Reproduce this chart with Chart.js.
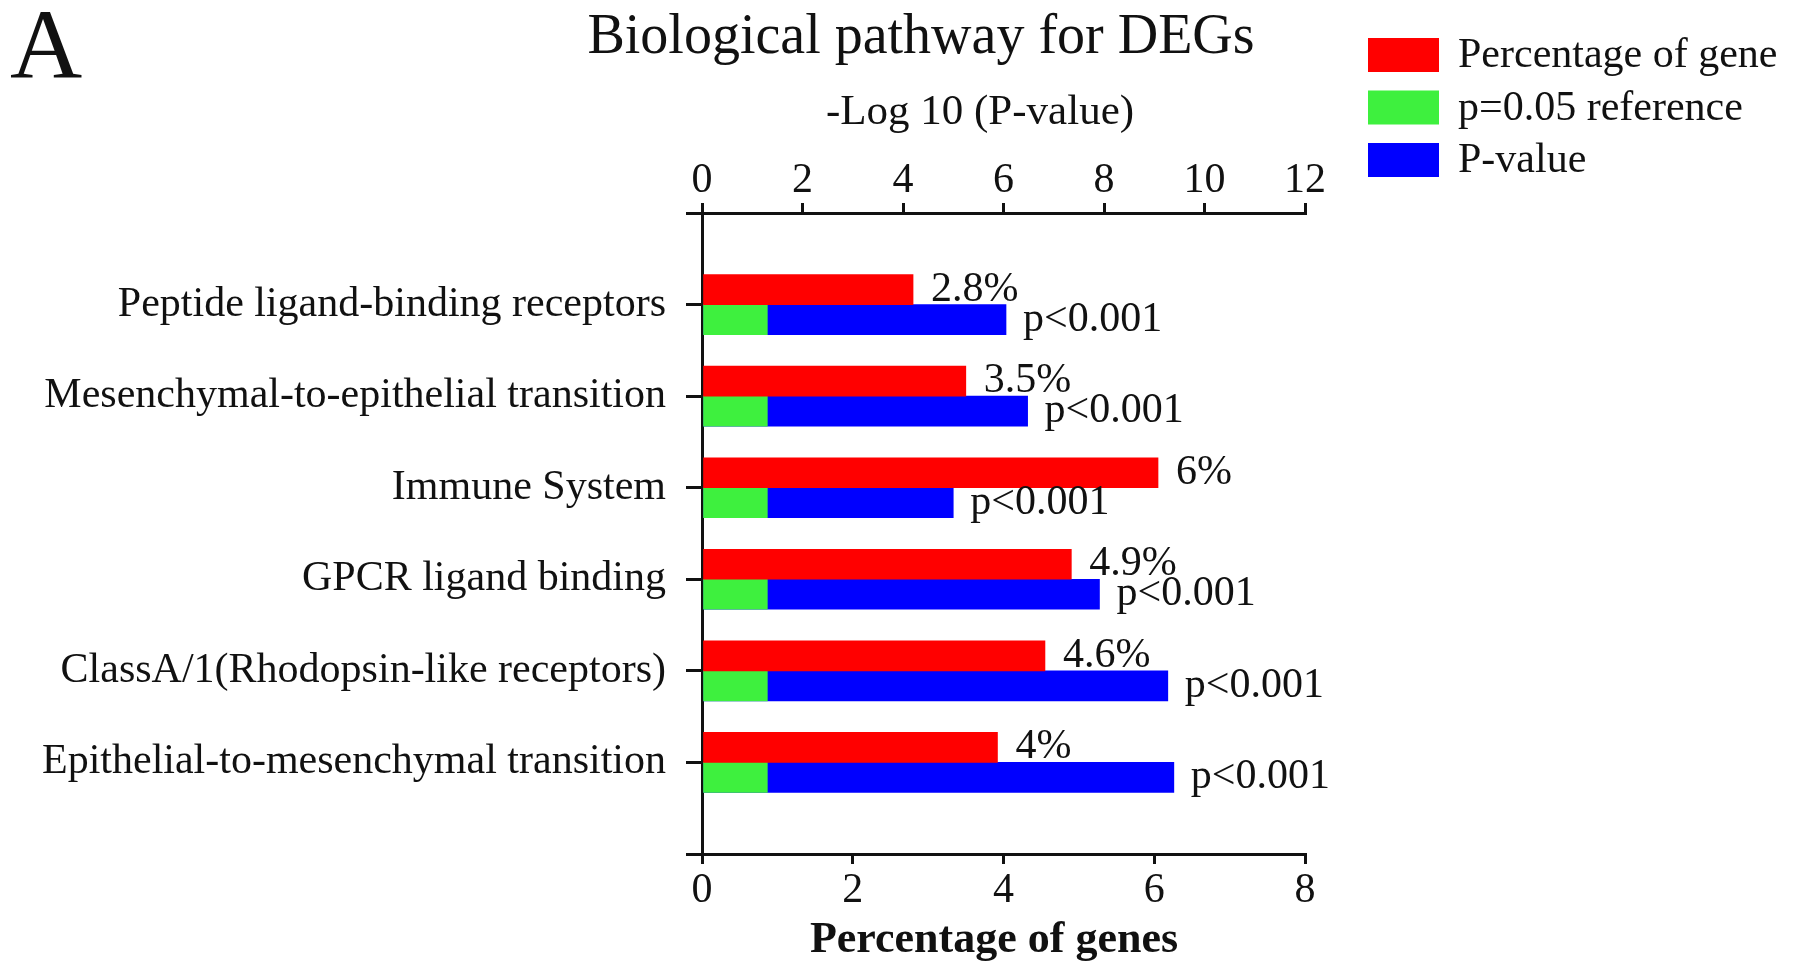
<!DOCTYPE html>
<html>
<head>
<meta charset="utf-8">
<title>Biological pathway for DEGs</title>
<script src="https://cdn.jsdelivr.net/npm/chart.js"></script>
<style>
html, body { margin:0; padding:0; background:#fff; }
</style>
</head>
<body>
<canvas id="myChart" width="1795" height="979"></canvas>
<script>
// pathways, top to bottom
var pathways = [
  'Peptide ligand-binding receptors',
  'Mesenchymal-to-epithelial transition',
  'Immune System',
  'GPCR ligand binding',
  'ClassA/1(Rhodopsin-like receptors)',
  'Epithelial-to-mesenchymal transition'
];
// percentage of genes (bottom axis)
var percentGenes = [2.8, 3.5, 6.05, 4.9, 4.55, 3.92];
var percentText = ['2.8%', '3.5%', '6%', '4.9%', '4.6%', '4%'];
// -log10(p) (top axis)
var logP = [6.05, 6.48, 5.0, 7.91, 9.27, 9.39];
var refLogP = [1.3, 1.3, 1.3, 1.3, 1.3, 1.3];
var pText = ['p<0.001', 'p<0.001', 'p<0.001', 'p<0.001', 'p<0.001', 'p<0.001'];

var FONT = '"Liberation Serif", "Times New Roman", serif';
var INK = '#111111';

// one empty slot above and below the pathways, like the original axis
function pad(a) { return [null].concat(a, [null]); }
var labels = [''].concat(pathways, ['']);

var extras = {
  id: 'extras',
  afterDatasetsDraw: function(chart) {
    var ctx = chart.ctx;
    ctx.save();
    ctx.fillStyle = INK;
    ctx.textBaseline = 'middle';
    ctx.textAlign = 'left';
    ctx.font = '42px ' + FONT;
    var red = chart.getDatasetMeta(0).data;
    var blue = chart.getDatasetMeta(2).data;
    for (var i = 0; i < pathways.length; i++) {
      var r = red[i + 1], b = blue[i + 1];
      ctx.fillText(percentText[i], r.x + 18, r.y);
      ctx.fillText(pText[i], b.x + 17, b.y);
    }
    ctx.restore();
  },
  afterDraw: function(chart) {
    var ctx = chart.ctx;
    ctx.save();
    ctx.fillStyle = INK;

    ctx.textBaseline = 'alphabetic';
    ctx.textAlign = 'left';
    ctx.font = '100px ' + FONT;
    ctx.fillText('A', 10, 78);

    ctx.textBaseline = 'middle';
    ctx.textAlign = 'center';
    ctx.font = '56px ' + FONT;
    ctx.fillText('Biological pathway for DEGs', 921, 38);
    ctx.font = '43px ' + FONT;
    ctx.fillText('-Log 10 (P-value)', 980, 113);
    ctx.font = 'bold 44px ' + FONT;
    ctx.fillText('Percentage of genes', 994, 941);

    // legend
    var ds = chart.data.datasets;
    ctx.textAlign = 'left';
    ctx.font = '42px ' + FONT;
    for (var k = 0; k < ds.length; k++) {
      var top = 38 + k * 52.5;
      ctx.fillStyle = ds[k].backgroundColor;
      ctx.fillRect(1368, top, 71, 34);
      ctx.fillStyle = INK;
      ctx.fillText(ds[k].label, 1458, top + 18);
    }
    ctx.restore();
  }
};

var axisGrid = {
  drawOnChartArea: false,
  color: INK,
  tickColor: INK,
  lineWidth: 3,
  tickWidth: 3,
  tickLength: 10
};
var tickFont = { family: FONT, size: 42, lineHeight: 1 };

var myChart = new Chart(document.getElementById('myChart'), {
  type: 'bar',
  data: {
    labels: labels,
    datasets: [
      {
        label: 'Percentage of gene',
        data: pad(percentGenes),
        backgroundColor: '#ff0000',
        xAxisID: 'x',
        stack: 'pct'
      },
      {
        label: 'p=0.05 reference',
        data: pad(refLogP),
        backgroundColor: '#3ef03e',
        xAxisID: 'x2',
        stack: 'p'
      },
      {
        label: 'P-value',
        data: pad(logP),
        backgroundColor: '#0000ff',
        xAxisID: 'x2',
        stack: 'p'
      }
    ]
  },
  options: {
    indexAxis: 'y',
    responsive: false,
    animation: false,
    barThickness: 30,
    layout: { padding: { left: 0, right: 490, top: 0, bottom: 0 } },
    plugins: {
      legend: { display: false },
      tooltip: { enabled: false }
    },
    scales: {
      y: {
        type: 'category',
        offset: false,
        grid: Object.assign({}, axisGrid, { offset: false, tickLength: 16 }),
        border: { display: true, color: INK, width: 3 },
        ticks: { autoSkip: false, padding: 20, color: INK, font: tickFont },
        afterFit: function(s) { s.width = 702; }
      },
      x: {
        type: 'linear',
        position: 'bottom',
        stacked: false,
        min: 0, max: 8,
        grid: axisGrid,
        border: { display: true, color: INK, width: 3 },
        ticks: { stepSize: 2, padding: 6, color: INK, font: tickFont },
        afterFit: function(s) { s.height = 125; }
      },
      x2: {
        type: 'linear',
        position: 'top',
        stacked: false,
        min: 0, max: 12,
        grid: axisGrid,
        border: { display: true, color: INK, width: 3 },
        ticks: { stepSize: 2, padding: 1, color: INK, font: tickFont },
        afterFit: function(s) { s.height = 213; }
      }
    }
  },
  plugins: [extras]
});
</script>
</body>
</html>
